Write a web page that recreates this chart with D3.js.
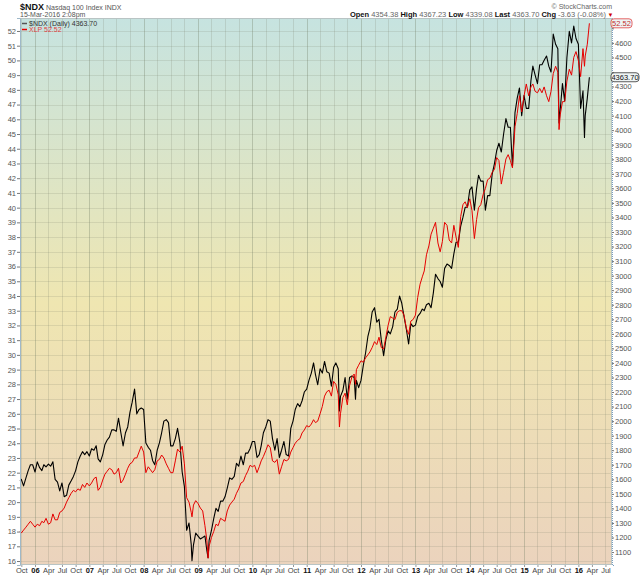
<!DOCTYPE html>
<html>
<head>
<meta charset="utf-8">
<script src="https://cdn.jsdelivr.net/npm/d3@7/dist/d3.min.js"></script>
<style>
  body { margin: 0; background: #fff; }
  svg { display: block; font-family: "Liberation Sans", Arial, sans-serif; }
</style>
</head>
<body>
<svg id="chart" width="640" height="576"></svg>
<script>
// sample dates (semi-monthly, plus a few turning points)
var dates = [
  "2005-09-22","2005-10-01","2005-10-16","2005-11-01","2005-11-16","2005-12-01","2005-12-16",
  "2006-01-01","2006-01-16","2006-02-01","2006-02-16","2006-03-01","2006-03-16","2006-04-01","2006-04-16","2006-05-01","2006-05-16","2006-06-01","2006-06-16","2006-07-01","2006-07-16","2006-08-01","2006-08-16","2006-09-01","2006-09-16","2006-10-01","2006-10-16","2006-11-01","2006-11-16","2006-12-01","2006-12-16",
  "2007-01-01","2007-01-16","2007-02-01","2007-02-16","2007-03-01","2007-03-16","2007-04-01","2007-04-16","2007-05-01","2007-05-16","2007-06-01","2007-06-16","2007-07-01","2007-07-16","2007-08-01","2007-08-16","2007-09-01","2007-09-16","2007-10-01","2007-10-16","2007-11-01","2007-11-16","2007-12-01","2007-12-16",
  "2008-01-01","2008-01-16","2008-02-01","2008-02-16","2008-03-01","2008-03-16","2008-04-01","2008-04-16","2008-05-01","2008-05-16","2008-06-01","2008-06-16","2008-07-01","2008-07-16","2008-08-01","2008-08-16","2008-09-01","2008-09-16","2008-10-01","2008-10-16","2008-11-01","2008-11-16","2008-11-21","2008-12-01","2008-12-16",
  "2009-01-01","2009-01-16","2009-02-01","2009-02-16","2009-03-01","2009-03-09","2009-03-16","2009-04-01","2009-04-16","2009-05-01","2009-05-16","2009-06-01","2009-06-16","2009-07-01","2009-07-16","2009-08-01","2009-08-16","2009-09-01","2009-09-16","2009-10-01","2009-10-16","2009-11-01","2009-11-16","2009-12-01","2009-12-16",
  "2010-01-01","2010-01-16","2010-02-01","2010-02-16","2010-03-01","2010-03-16","2010-04-01","2010-04-16","2010-05-01","2010-05-16","2010-06-01","2010-06-16","2010-07-01","2010-07-16","2010-08-01","2010-08-16","2010-09-01","2010-09-16","2010-10-01","2010-10-16","2010-11-01","2010-11-16","2010-12-01","2010-12-16",
  "2011-01-01","2011-01-16","2011-02-01","2011-02-16","2011-03-01","2011-03-16","2011-04-01","2011-04-16","2011-05-01","2011-05-16","2011-06-01","2011-06-16","2011-07-01","2011-07-16","2011-08-01","2011-08-09","2011-08-16","2011-09-01","2011-09-16","2011-10-01","2011-10-16","2011-11-01","2011-11-16","2011-11-25","2011-12-01","2011-12-16",
  "2012-01-01","2012-01-16","2012-02-01","2012-02-16","2012-03-01","2012-03-16","2012-04-01","2012-04-16","2012-05-01","2012-05-16","2012-06-01","2012-06-16","2012-07-01","2012-07-16","2012-08-01","2012-08-16","2012-09-01","2012-09-16","2012-10-01","2012-10-16","2012-11-01","2012-11-16","2012-12-01","2012-12-16",
  "2013-01-01","2013-01-16","2013-02-01","2013-02-16","2013-03-01","2013-03-16","2013-04-01","2013-04-16","2013-05-01","2013-05-16","2013-06-01","2013-06-16","2013-07-01","2013-07-16","2013-08-01","2013-08-16","2013-09-01","2013-09-16","2013-10-01","2013-10-16","2013-11-01","2013-11-16","2013-12-01","2013-12-16",
  "2014-01-01","2014-01-16","2014-02-01","2014-02-16","2014-03-01","2014-03-16","2014-04-01","2014-04-16","2014-05-01","2014-05-16","2014-06-01","2014-06-16","2014-07-01","2014-07-16","2014-08-01","2014-08-16","2014-09-01","2014-09-16","2014-10-01","2014-10-15","2014-11-01","2014-11-16","2014-12-01","2014-12-16",
  "2015-01-01","2015-01-16","2015-02-01","2015-02-16","2015-03-01","2015-03-16","2015-04-01","2015-04-16","2015-05-01","2015-05-16","2015-06-01","2015-06-16","2015-07-01","2015-07-16","2015-08-01","2015-08-16","2015-08-24","2015-09-01","2015-09-16","2015-10-01","2015-10-16","2015-11-01","2015-11-16","2015-12-01","2015-12-16",
  "2016-01-01","2016-01-16","2016-02-01","2016-02-11","2016-02-16","2016-03-01","2016-03-15"
];

// $NDX close (right axis)
var ndx = [
  1590,1600,1555,1610,1660,1700,1700,
  1650,1720,1680,1660,1700,1685,1705,1690,1720,1600,1580,1520,1575,1480,1490,1560,1590,1620,1660,1720,1760,1790,1770,1790,
  1760,1810,1800,1830,1740,1720,1770,1840,1870,1890,1940,1940,1930,2020,1920,1830,1920,1960,2060,2130,2220,2050,2080,2090,
  2080,1850,1820,1800,1730,1700,1800,1850,1920,2000,2010,1990,1830,1830,1880,1950,1850,1650,1550,1250,1300,1150,1040,1150,1230,
  1210,1190,1200,1210,1110,1060,1180,1250,1330,1400,1380,1450,1450,1480,1540,1610,1600,1620,1710,1690,1760,1700,1780,1780,1810,
  1860,1860,1750,1770,1830,1920,1960,2010,2000,1880,1800,1880,1750,1800,1860,1770,1760,1950,2000,2080,2120,2100,2140,2200,
  2220,2280,2330,2400,2320,2250,2360,2330,2410,2340,2330,2240,2370,2400,2360,2070,2170,2210,2300,2150,2300,2310,2300,2150,2280,2230,
  2280,2380,2470,2580,2640,2750,2780,2680,2700,2560,2450,2560,2620,2600,2650,2750,2770,2860,2810,2720,2630,2530,2670,2650,
  2660,2720,2740,2770,2760,2800,2810,2780,2880,3010,2980,2960,2920,3050,3080,3070,3050,3150,3230,3230,3340,3400,3470,3470,
  3590,3610,3450,3600,3690,3650,3650,3450,3550,3550,3700,3770,3860,3910,3850,3970,4080,4020,4020,3750,4120,4220,4290,4100,
  4240,4150,4150,4340,4440,4380,4320,4450,4450,4480,4510,4440,4400,4660,4590,4560,4050,4140,4320,4200,4500,4680,4600,4715,4630,
  4590,4150,4270,3950,4100,4220,4363.70
];

// XLP close (left axis)
var xlp = [
  18.0,17.9,18.1,18.3,18.5,18.7,18.5,
  18.3,18.5,18.4,18.7,18.6,18.9,18.5,18.6,19.2,18.8,18.8,19.3,19.4,19.6,20.0,20.3,20.6,20.8,20.7,20.9,20.8,21.2,21.0,21.3,
  21.1,21.3,21.6,21.7,20.8,21.0,21.5,21.9,22.1,22.3,22.2,21.9,22.0,22.3,21.3,21.5,21.9,22.3,22.6,22.7,23.0,23.0,23.4,23.8,
  23.4,22.0,22.4,22.2,22.0,22.2,22.8,22.9,23.2,23.0,22.6,22.3,22.0,22.0,22.8,23.6,23.4,23.8,22.6,20.3,20.0,19.3,19.0,19.8,20.1,
  19.9,19.6,19.4,18.4,17.4,16.2,17.0,17.6,18.0,18.5,18.4,18.9,18.8,18.7,19.4,19.8,20.0,20.2,20.6,20.9,21.3,21.4,21.8,22.1,22.5,
  22.4,22.5,22.0,22.4,22.8,23.1,23.5,23.9,23.7,22.8,22.7,22.9,21.9,22.4,22.9,22.8,22.9,23.4,23.7,24.0,24.2,24.3,24.7,24.9,
  25.2,25.1,25.3,25.6,25.4,25.5,26.0,26.5,27.2,27.5,27.6,27.2,28.2,28.0,27.3,25.1,26.0,27.1,27.4,26.6,27.9,28.5,28.7,28.0,29.0,29.3,
  29.6,29.5,29.8,30.0,30.2,30.5,30.9,30.7,31.2,30.5,30.4,31.2,32.0,32.6,32.5,32.4,32.9,33.0,33.0,32.7,31.8,31.4,32.3,32.4,
  32.7,33.9,34.8,35.3,35.7,36.8,37.4,38.2,38.6,39.0,37.6,37.0,37.7,39.0,38.8,37.8,37.6,38.8,38.0,37.3,39.4,40.2,40.4,40.0,
  40.6,39.8,37.9,39.2,40.0,40.2,40.9,41.3,41.9,42.0,42.4,42.6,43.4,43.2,41.6,42.4,43.3,43.6,43.2,42.7,45.5,46.4,47.6,46.5,
  47.6,48.4,47.6,48.2,48.4,47.9,47.8,48.1,47.8,48.2,47.6,47.2,47.9,49.1,49.6,49.2,45.3,46.3,47.2,47.2,48.6,49.4,49.0,50.2,50.6,
  50.0,48.9,50.8,49.6,50.3,51.1,52.52
];

var xlpTicks = d3.range(16, 53);
var ndxTicks = d3.range(1100, 4701, 100);

var svg = d3.select("#chart"),
    plotL = 20, plotR = 612, plotT = 18, plotB = 565;

var parse = d3.timeParse("%Y-%m-%d");
var rows = dates.map(function(d, i) { return {date: parse(d), ndx: ndx[i], xlp: xlp[i]}; });

var x = d3.scaleTime()
    .domain([new Date(2005, 8, 22), new Date(2016, 7, 14)])
    .range([plotL, plotR]);

var yL = d3.scaleLinear().domain([15.73, 52.88]).range([plotB, plotT]);
var yR = d3.scaleLinear().domain([1011, 4771]).range([plotB, plotT]);

// background gradient
var grad = svg.append("defs").append("linearGradient")
    .attr("id", "bg").attr("x1", 0).attr("y1", 0).attr("x2", 0).attr("y2", 1);
grad.append("stop").attr("offset", "0%").attr("stop-color", "#c6e3e0");
grad.append("stop").attr("offset", "52%").attr("stop-color", "#efe6b1");
grad.append("stop").attr("offset", "100%").attr("stop-color", "#ebd3bd");

svg.append("rect")
    .attr("x", plotL).attr("y", plotT)
    .attr("width", plotR - plotL).attr("height", plotB - plotT)
    .attr("fill", "url(#bg)");

// grid
var quarters = x.ticks(d3.timeMonth.every(3));
svg.append("g").selectAll("line")
    .data(xlpTicks)
    .enter().append("line")
      .attr("x1", plotL).attr("x2", plotR)
      .attr("y1", function(d) { return Math.round(yL(d)) + 0.5; })
      .attr("y2", function(d) { return Math.round(yL(d)) + 0.5; })
      .attr("stroke", "rgba(120,125,105,0.18)");

svg.append("g").selectAll("line")
    .data(quarters)
    .enter().append("line")
      .attr("x1", function(d) { return Math.round(x(d)) + 0.5; })
      .attr("x2", function(d) { return Math.round(x(d)) + 0.5; })
      .attr("y1", plotT).attr("y2", plotB)
      .attr("stroke", function(d) { return d.getMonth() === 0 ? "rgba(110,120,95,0.32)" : "rgba(120,125,105,0.2)"; });

// series
var lineN = d3.line().x(function(d) { return x(d.date); }).y(function(d) { return yR(d.ndx); });
var lineX = d3.line().x(function(d) { return x(d.date); }).y(function(d) { return yL(d.xlp); });

svg.append("path").datum(rows)
    .attr("d", lineN).attr("fill", "none")
    .attr("stroke", "#000").attr("stroke-width", 1.1).attr("stroke-linejoin", "round");

svg.append("path").datum(rows)
    .attr("d", lineX).attr("fill", "none")
    .attr("stroke", "#e60000").attr("stroke-width", 1).attr("stroke-linejoin", "round");

// frame
svg.append("rect")
    .attr("x", plotL + 0.5).attr("y", plotT + 0.5)
    .attr("width", plotR - plotL - 1).attr("height", plotB - plotT - 1)
    .attr("fill", "none").attr("stroke", "#b9c4c4");

// left axis
svg.append("g")
    .attr("transform", "translate(" + plotL + ",0)")
    .call(d3.axisLeft(yL).tickValues(xlpTicks).tickSize(3).tickPadding(1).tickFormat(d3.format("d")))
    .call(function(g) {
      g.select(".domain").attr("stroke", "#9fb8c8");
      g.selectAll(".tick line").attr("stroke", "#777");
      g.selectAll("text").attr("font-size", 7.5).attr("fill", "#555").attr("font-family", null);
    });

// right axis (labels under the last-value tags are hidden, as on the original)
var tagged = [4700, 4400];
svg.append("g")
    .attr("transform", "translate(" + plotR + ",0)")
    .call(d3.axisRight(yR).tickValues(ndxTicks).tickSize(2).tickPadding(1).tickFormat(d3.format("d")))
    .call(function(g) {
      g.select(".domain").attr("stroke", "#7aa0c0").attr("stroke-dasharray", "1,1");
      g.selectAll(".tick line").attr("stroke", "#777");
      g.selectAll("text").attr("font-size", 7.5).attr("fill", "#555").attr("font-family", null);
      g.selectAll(".tick text").filter(function(d) { return tagged.indexOf(d) >= 0; }).remove();
    });

// bottom axis
svg.append("g")
    .attr("transform", "translate(0," + plotB + ")")
    .call(d3.axisBottom(x).tickValues(quarters).tickSize(2).tickPadding(1)
      .tickFormat(function(d) { return d.getMonth() === 0 ? d3.timeFormat("%y")(d) : d3.timeFormat("%b")(d); }))
    .call(function(g) {
      g.select(".domain").remove();
      g.selectAll(".tick line").attr("stroke", "#999");
      g.selectAll("text").attr("font-size", 7.5).attr("font-family", null)
        .attr("font-weight", function(d) { return d.getMonth() === 0 ? "bold" : null; })
        .attr("fill", function(d) { return d.getMonth() === 0 ? "#111" : "#444"; });
    });

// header
svg.append("text").attr("x", 20).attr("y", 10)
    .attr("font-size", 9).attr("font-weight", "bold").attr("fill", "#111").text("$NDX");
svg.append("text").attr("x", 46).attr("y", 10)
    .attr("font-size", 7).attr("fill", "#555").text("Nasdaq 100 Index  INDX");
svg.append("text").attr("x", 20).attr("y", 17)
    .attr("font-size", 7).attr("fill", "#555").text("15-Mar-2016 2:08pm");
svg.append("text").attr("x", 612).attr("y", 8.5).attr("text-anchor", "end")
    .attr("font-size", 7).attr("fill", "#666").text("\u00a9 StockCharts.com");

var quote = [["Open", "4354.38"], ["High", "4367.23"], ["Low", "4339.08"], ["Last", "4363.70"], ["Chg", "-3.63 (-0.08%)"]];
var qt = svg.append("text").attr("x", 606).attr("y", 17).attr("text-anchor", "end").attr("font-size", 7.5);
quote.forEach(function(q, i) {
  qt.append("tspan").attr("font-weight", "bold").attr("fill", "#111").text((i ? "  " : "") + q[0] + " ");
  qt.append("tspan").attr("fill", "#666").text(q[1]);
});
svg.append("text").attr("x", 607.5).attr("y", 16.5).attr("font-size", 6).attr("fill", "#d00000").text("\u25bc");

// legend
var legend = [["$NDX (Daily) 4363.70", "#555", "#333"], ["XLP 52.52", "#e60000", "#e04040"]];
legend.forEach(function(l, i) {
  var yy = 23.5 + i * 6;
  svg.append("line").attr("x1", 22).attr("x2", 27).attr("y1", yy).attr("y2", yy)
      .attr("stroke", l[1]).attr("stroke-width", 1.5);
  svg.append("text").attr("x", 29).attr("y", yy + 2.5)
      .attr("font-size", 7).attr("fill", l[2]).text(l[0]);
});

// last value tags on the right
function tag(yv, label, border, color, w) {
  var g = svg.append("g").attr("transform", "translate(611," + yv + ")");
  g.append("rect").attr("x", 0).attr("y", -4.5).attr("width", w).attr("height", 9).attr("rx", 3)
      .attr("fill", "#eef4f4").attr("stroke", border).attr("stroke-width", 0.8);
  g.append("text").attr("x", w / 2).attr("y", 2.6).attr("text-anchor", "middle")
      .attr("font-size", 7.5).attr("fill", color).text(label);
}
tag(yL(52.52), "52.52", "#e04040", "#c03030", 21);
tag(yR(4363.70), "4363.70", "#333", "#111", 28);
</script>
</body>
</html>
